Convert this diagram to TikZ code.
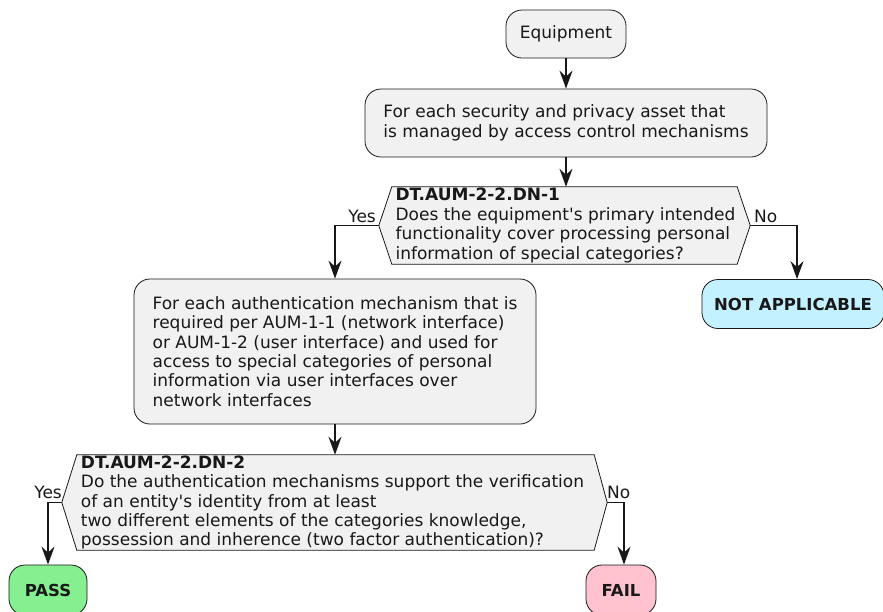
\documentclass[tikz,border=0pt]{standalone}
\usepackage{fontspec}
\setmainfont[Ligatures=TeXOff]{DejaVu Sans}
\usetikzlibrary{arrows.meta}
\definecolor{boxfill}{HTML}{F1F1F1}
\definecolor{boxline}{HTML}{181818}
\definecolor{nafill}{HTML}{C4F1FF}
\definecolor{passfill}{HTML}{86EF8F}
\definecolor{failfill}{HTML}{FFC2CE}
\tikzset{
  txt/.style={font=\fontsize{17}{19.4}\selectfont, text=boxline},
  act/.style={txt, draw=boxline, line width=0.8pt, fill=boxfill, rounded corners=16pt, align=left, inner sep=0pt},
  term/.style={act, font=\fontsize{16.5}{19.4}\selectfont\bfseries},
  dec/.style={txt, align=left, inner sep=0pt},
  decline/.style={draw=boxline, line width=0.8pt, fill=boxfill},
  arr/.style={draw=boxline, line width=1.5pt, -{Stealth[length=18pt,width=13pt,inset=6pt]}},
  lbl/.style={txt, inner sep=0pt}
}
\begin{document}
\begin{tikzpicture}[x=1pt,y=-1pt]
\useasboundingbox (0,0) rectangle (883,611);
\node[act, minimum width=120pt, minimum height=48pt] (eq) at (566,34) {Equipment};
\node[act, minimum width=402pt, minimum height=68pt] (fe) at (566,123) {For each security and privacy asset that\\is managed by access control mechanisms};
% decision 1
\node[dec, minimum width=345pt, minimum height=77pt] (d1) at (564.5,225.5) {};
\draw[decline] (d1.north west) -- (d1.north east) -- ([xshift=13pt]d1.east) -- (d1.south east) -- (d1.south west) -- ([xshift=-13pt]d1.west) -- cycle;
\node[dec] (d1t) at ([xshift=1pt]d1.center) {\textbf{DT.AUM-2-2.DN-1}\\Does the equipment's primary intended\\functionality cover processing personal\\information of special categories?};
\coordinate (d1w) at ([xshift=-13pt]d1.west);
\coordinate (d1e) at ([xshift=13pt]d1.east);
\node[term, fill=nafill, minimum width=182pt, minimum height=49pt] (na) at (793,304) {NOT APPLICABLE};
\node[act, minimum width=402pt, minimum height=145pt] (ea) at (335,351.5) {For each authentication mechanism that is\\required per AUM-1-1 (network interface)\\or AUM-1-2 (user interface) and used for\\access to special categories of personal\\information via user interfaces over\\network interfaces};
% decision 2
\node[dec, minimum width=517pt, minimum height=95pt] (d2) at (335.5,502.5) {};
\draw[decline] (d2.north west) -- (d2.north east) -- ([xshift=13pt]d2.east) -- (d2.south east) -- (d2.south west) -- ([xshift=-15pt]d2.west) -- cycle;
\node[dec] (d2t) at ([xshift=-3pt]d2.center) {\textbf{DT.AUM-2-2.DN-2}\\Do the authentication mechanisms support the verification\\of an entity's identity from at least\\two different elements of the categories knowledge,\\possession and inherence (two factor authentication)?};
\coordinate (d2w) at ([xshift=-15pt]d2.west);
\coordinate (d2e) at ([xshift=13pt]d2.east);
\node[term, fill=passfill, minimum width=78pt, minimum height=50pt] (pass) at (48,590) {PASS};
\node[term, fill=failfill, minimum width=70pt, minimum height=50pt] (fail) at (621,590) {FAIL};
% connectors
\draw[arr] (eq) -- (fe);
\draw[arr] (fe) -- (fe |- d1.north);
\draw[arr] (d1w) -| (ea);
\draw[arr] (d1e) -| ([xshift=4pt]na.north);
\draw[arr] (ea) -- (ea |- d2.north);
\draw[arr] (d2w) -| (pass);
\draw[arr] (d2e) -| ([xshift=3pt]fail.north);
% labels
\node[lbl, anchor=base east] (y1) at (376,222) {Yes};
\node[lbl, anchor=base west] (n1) at (754,222) {No};
\node[lbl, anchor=base east] (y2) at (62,498) {Yes};
\node[lbl, anchor=base west] (n2) at (607,498) {No};
\end{tikzpicture}
\end{document}
